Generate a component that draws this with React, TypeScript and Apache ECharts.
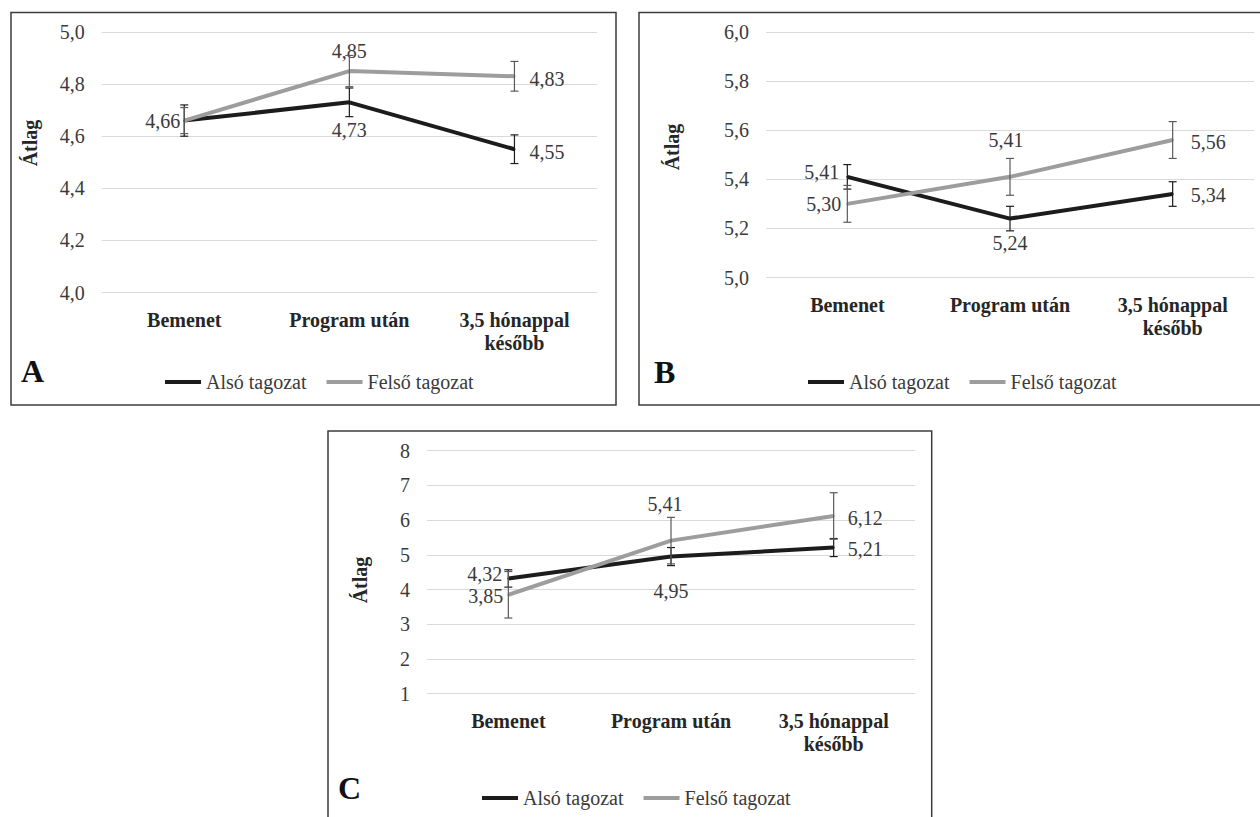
import React, { useEffect, useRef } from "react";
import * as echarts from "echarts";

const categories = ["Bemenet", "Program után", "3,5 hónappal\nkésőbb"];
const seriesNames = ["Alsó tagozat", "Felső tagozat"];

// Panel A
const aAlso = [4.66, 4.73, 4.55];
const aFelso = [4.66, 4.85, 4.83];
const aAlsoErr = [0.06, 0.055, 0.055];
const aFelsoErr = [0.05, 0.06, 0.057];
const aTicks = [4.0, 4.2, 4.4, 4.6, 4.8, 5.0];

// Panel B
const bAlso = [5.41, 5.24, 5.34];
const bFelso = [5.3, 5.41, 5.56];
const bAlsoErr = [0.05, 0.05, 0.05];
const bFelsoErr = [0.075, 0.075, 0.075];
const bTicks = [5.0, 5.2, 5.4, 5.6, 5.8, 6.0];

// Panel C
const cAlso = [4.32, 4.95, 5.21];
const cFelso = [3.85, 5.41, 6.12];
const cAlsoErr = [0.25, 0.26, 0.26];
const cFelsoErr = [0.67, 0.67, 0.67];
const cTicks = [1, 2, 3, 4, 5, 6, 7, 8];

const FONT = "'Liberation Serif', 'Times New Roman', serif";
const BLACK = "#1c1c1c";
const GRAY = "#9d9d9d";
const GRAY_ERR = "#5a5a5a";
const TEXT = "#3a3a3a";

type LabelCfg = { show?: boolean; pos?: string; d?: number; off?: number[] };

const panels = [
  {
    letter: "A",
    grid: { left: 101.7, top: 32, width: 495.3, height: 260.5 },
    ticks: aTicks, decimals: 1,
    also: aAlso, felso: aFelso, alsoErr: aAlsoErr, felsoErr: aFelsoErr,
    alsoLabels: [
      { pos: "left", d: 3 },
      { pos: "bottom", d: 17 },
      { pos: "right", d: 14, off: [0, 3] },
    ] as LabelCfg[],
    felsoLabels: [
      { show: false },
      { pos: "top", d: 9 },
      { pos: "right", d: 14, off: [0, 3] },
    ] as LabelCfg[],
    border: { x: 11, y: 12.5, width: 605, height: 392.5 },
    letterPos: [21, 371],
    titlePos: [30, 143],
    legendPos: [160, 366],
  },
  {
    letter: "B",
    grid: { left: 766, top: 32, width: 488, height: 245.5 },
    ticks: bTicks, decimals: 1,
    also: bAlso, felso: bFelso, alsoErr: bAlsoErr, felsoErr: bFelsoErr,
    alsoLabels: [
      { pos: "left", d: 7, off: [0, -5] },
      { pos: "bottom", d: 13 },
      { pos: "right", d: 17, off: [0, 1] },
    ] as LabelCfg[],
    felsoLabels: [
      { pos: "left", d: 5 },
      { pos: "top", d: 26, off: [-4, 0] },
      { pos: "right", d: 17, off: [0, 2] },
    ] as LabelCfg[],
    border: { x: 639, y: 12.5, width: 660, height: 392.5 },
    letterPos: [654, 372],
    titlePos: [672, 147],
    legendPos: [803, 366],
  },
  {
    letter: "C",
    grid: { left: 427, top: 450.7, width: 488, height: 243 },
    ticks: cTicks, decimals: 0,
    also: cAlso, felso: cFelso, alsoErr: cAlsoErr, felsoErr: cFelsoErr,
    alsoLabels: [
      { pos: "left", d: 5, off: [0, -4] },
      { pos: "bottom", d: 23 },
      { pos: "right", d: 13, off: [0, 1] },
    ] as LabelCfg[],
    felsoLabels: [
      { pos: "left", d: 4, off: [0, 1] },
      { pos: "top", d: 26, off: [-6, 0] },
      { pos: "right", d: 13, off: [0, 2] },
    ] as LabelCfg[],
    border: { x: 328, y: 431, width: 603.7, height: 420 },
    letterPos: [338, 788],
    titlePos: [360, 580],
    legendPos: [477, 782],
  },
];

const fmt = (v: number, d: number) => v.toFixed(d).replace(".", ",");

function lineData(values: number[], labels: LabelCfg[]) {
  return values.map((v, i) => {
    const l = labels[i] || {};
    if (l.show === false) return { value: v, label: { show: false } };
    return {
      value: v,
      label: {
        show: true,
        position: l.pos,
        distance: l.d,
        offset: l.off || [0, 0],
      },
    };
  });
}

function errData(values: number[], errs: number[]) {
  return values.map((v, i) => [i, v - errs[i], v + errs[i]]);
}

function errRender(color: string) {
  return (params: any, api: any) => {
    const x = api.value(0);
    const lo = api.coord([x, api.value(1)]);
    const hi = api.coord([x, api.value(2)]);
    const w = 4;
    const style = { stroke: color, lineWidth: 1.2 };
    return {
      type: "group",
      children: [
        { type: "line", shape: { x1: lo[0], y1: lo[1], x2: hi[0], y2: hi[1] }, style },
        { type: "line", shape: { x1: lo[0] - w, y1: lo[1], x2: lo[0] + w, y2: lo[1] }, style },
        { type: "line", shape: { x1: hi[0] - w, y1: hi[1], x2: hi[0] + w, y2: hi[1] }, style },
      ],
    };
  };
}

export default function App() {
  const ref = useRef<HTMLDivElement>(null);
  useEffect(() => {
    if (!ref.current) return;
    const chart = echarts.init(ref.current, undefined, { renderer: "svg" });

    const grids: any[] = [];
    const xAxes: any[] = [];
    const yAxes: any[] = [];
    const series: any[] = [];
    const legends: any[] = [];
    const graphics: any[] = [];

    panels.forEach((p, k) => {
      grids.push({ ...p.grid, containLabel: false });
      xAxes.push({
        type: "category",
        gridIndex: k,
        data: categories,
        boundaryGap: true,
        axisLine: { show: false },
        axisTick: { show: false },
        splitLine: { show: false },
        axisLabel: {
          interval: 0,
          margin: 16,
          fontFamily: FONT,
          fontSize: 20,
          fontWeight: "bold",
          color: "#262626",
          lineHeight: 23,
        },
      });
      const t = p.ticks;
      yAxes.push({
        type: "value",
        gridIndex: k,
        min: t[0],
        max: t[t.length - 1],
        interval: t[1] - t[0],
        axisLine: { show: false },
        axisTick: { show: false },
        splitLine: { show: true, lineStyle: { color: "#d9d9d9", width: 1 } },
        axisLabel: {
          margin: 17,
          fontFamily: FONT,
          fontSize: 20,
          color: TEXT,
          formatter: (v: number) => fmt(v, p.decimals),
        },
      });
      const labelBase = {
        fontFamily: FONT,
        fontSize: 20,
        color: TEXT,
        lineHeight: 20,
        formatter: (pr: any) => fmt(pr.value, 2),
      };
      series.push({
        type: "line",
        name: seriesNames[0],
        xAxisIndex: k,
        yAxisIndex: k,
        data: lineData(p.also, p.alsoLabels),
        symbol: "circle",
        symbolSize: 2,
        itemStyle: { color: BLACK },
        lineStyle: { color: BLACK, width: 4 },
        label: labelBase,
        z: 2,
        silent: true,
      });
      series.push({
        type: "line",
        name: seriesNames[1],
        xAxisIndex: k,
        yAxisIndex: k,
        data: lineData(p.felso, p.felsoLabels),
        symbol: "circle",
        symbolSize: 2,
        itemStyle: { color: GRAY },
        lineStyle: { color: GRAY, width: 4 },
        label: labelBase,
        z: 3,
        silent: true,
      });
      series.push({
        type: "custom",
        name: "err-also-" + k,
        xAxisIndex: k,
        yAxisIndex: k,
        data: errData(p.also, p.alsoErr),
        renderItem: errRender(BLACK),
        z: 4,
        silent: true,
      });
      series.push({
        type: "custom",
        name: "err-felso-" + k,
        xAxisIndex: k,
        yAxisIndex: k,
        data: errData(p.felso, p.felsoErr),
        renderItem: errRender(GRAY_ERR),
        z: 4,
        silent: true,
      });
      legends.push({
        left: p.legendPos[0],
        top: p.legendPos[1],
        data: seriesNames,
        icon: "rect",
        itemWidth: 36,
        itemHeight: 4,
        itemGap: 20,
        selectedMode: false,
        textStyle: { fontFamily: FONT, fontSize: 20, color: TEXT, lineHeight: 22 },
      });
      graphics.push({
        type: "rect",
        shape: p.border,
        style: { fill: "none", stroke: "#3c3c3c", lineWidth: 1.5 },
        silent: true,
      });
      graphics.push({
        type: "text",
        x: p.letterPos[0],
        y: p.letterPos[1],
        style: {
          text: p.letter,
          fontFamily: FONT,
          fontSize: 32,
          fontWeight: "bold",
          fill: "#111",
          textAlign: "left",
          textVerticalAlign: "middle",
        },
      });
      graphics.push({
        type: "text",
        x: p.titlePos[0],
        y: p.titlePos[1],
        rotation: Math.PI / 2,
        style: {
          text: "Átlag",
          fontFamily: FONT,
          fontSize: 20,
          fontWeight: "bold",
          fill: "#262626",
          textAlign: "center",
          textVerticalAlign: "middle",
        },
      });
    });

    chart.setOption({
      animation: false,
      backgroundColor: "#ffffff",
      grid: grids,
      xAxis: xAxes,
      yAxis: yAxes,
      series,
      legend: legends,
      graphic: graphics,
    });
    return () => chart.dispose();
  }, []);

  return (
    <div
      ref={ref}
      style={{ position: "fixed", left: 0, top: 0, width: 1260, height: 817, background: "#fff" }}
    />
  );
}
